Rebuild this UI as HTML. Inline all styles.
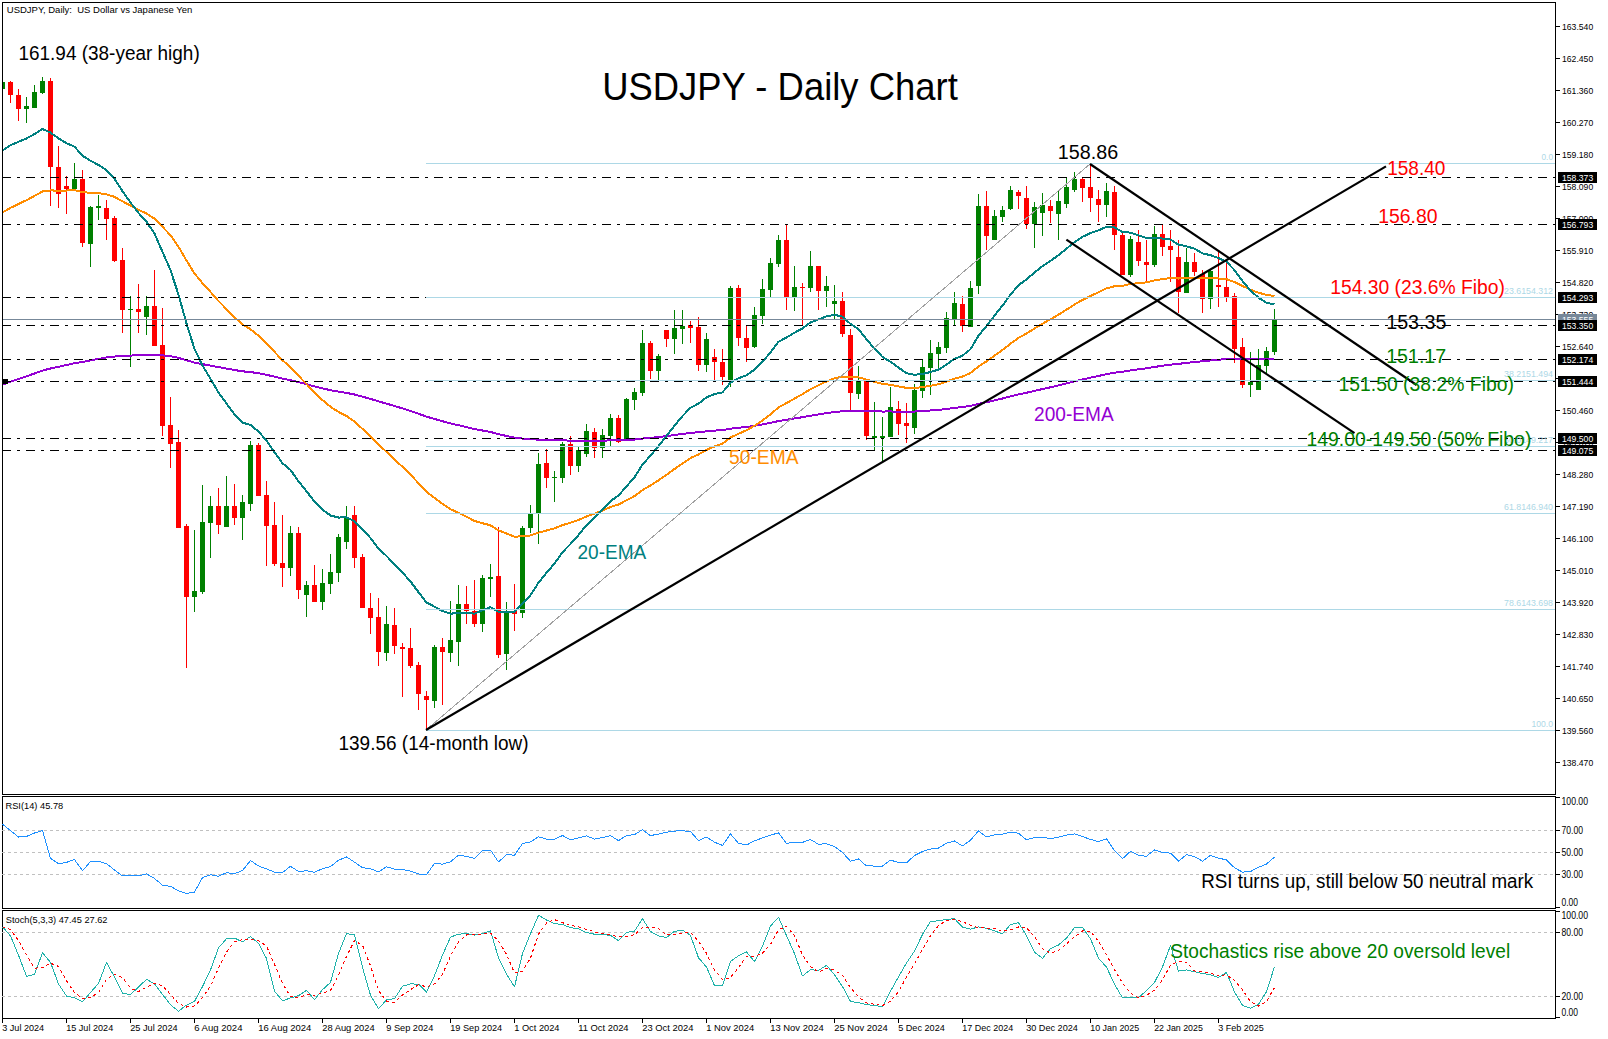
<!DOCTYPE html>
<html><head><meta charset="utf-8"><style>html,body{margin:0;padding:0;background:#fff;overflow:hidden}svg{display:block}</style></head><body>
<svg width="1608" height="1039" viewBox="0 0 1608 1039" style='font-family: "Liberation Sans", sans-serif;'>
<rect x="0" y="0" width="1608" height="1039" fill="#fff"/>
<g shape-rendering="crispEdges"><rect x="2" y="80" width="1" height="10" fill="#008000"/><rect x="3" y="82" width="2" height="7" fill="#008000"/><rect x="10" y="81" width="1" height="22" fill="#ff0000"/><rect x="8" y="82" width="5" height="13" fill="#ff0000"/><rect x="18" y="89" width="1" height="32" fill="#ff0000"/><rect x="16" y="95" width="5" height="14" fill="#ff0000"/><rect x="26" y="97" width="1" height="26" fill="#008000"/><rect x="24" y="106" width="5" height="3" fill="#008000"/><rect x="34" y="85" width="1" height="23" fill="#008000"/><rect x="32" y="92" width="5" height="16" fill="#008000"/><rect x="42" y="77" width="1" height="17" fill="#008000"/><rect x="40" y="81" width="5" height="12" fill="#008000"/><rect x="50" y="78" width="1" height="128" fill="#ff0000"/><rect x="48" y="81" width="5" height="86" fill="#ff0000"/><rect x="58" y="146" width="1" height="62" fill="#ff0000"/><rect x="56" y="167" width="5" height="27" fill="#ff0000"/><rect x="66" y="176" width="1" height="38" fill="#ff0000"/><rect x="64" y="186" width="5" height="3" fill="#ff0000"/><rect x="74" y="163" width="1" height="26" fill="#008000"/><rect x="72" y="179" width="5" height="10" fill="#008000"/><rect x="82" y="170" width="1" height="77" fill="#ff0000"/><rect x="80" y="179" width="5" height="64" fill="#ff0000"/><rect x="90" y="206" width="1" height="61" fill="#008000"/><rect x="88" y="207" width="5" height="37" fill="#008000"/><rect x="98" y="195" width="1" height="25" fill="#008000"/><rect x="96" y="206" width="5" height="2" fill="#008000"/><rect x="106" y="200" width="1" height="40" fill="#ff0000"/><rect x="104" y="208" width="5" height="11" fill="#ff0000"/><rect x="114" y="216" width="1" height="46" fill="#ff0000"/><rect x="112" y="218" width="5" height="43" fill="#ff0000"/><rect x="122" y="248" width="1" height="85" fill="#ff0000"/><rect x="120" y="260" width="5" height="50" fill="#ff0000"/><rect x="130" y="296" width="1" height="71" fill="#008000"/><rect x="128" y="309" width="5" height="1" fill="#008000"/><rect x="138" y="284" width="1" height="49" fill="#ff0000"/><rect x="136" y="309" width="5" height="3" fill="#ff0000"/><rect x="146" y="296" width="1" height="39" fill="#008000"/><rect x="144" y="306" width="5" height="11" fill="#008000"/><rect x="154" y="270" width="1" height="76" fill="#ff0000"/><rect x="152" y="306" width="5" height="40" fill="#ff0000"/><rect x="162" y="308" width="1" height="128" fill="#ff0000"/><rect x="160" y="345" width="5" height="81" fill="#ff0000"/><rect x="170" y="397" width="1" height="71" fill="#ff0000"/><rect x="168" y="425" width="5" height="19" fill="#ff0000"/><rect x="178" y="430" width="1" height="98" fill="#ff0000"/><rect x="176" y="442" width="5" height="86" fill="#ff0000"/><rect x="186" y="524" width="1" height="144" fill="#ff0000"/><rect x="184" y="526" width="5" height="71" fill="#ff0000"/><rect x="194" y="530" width="1" height="82" fill="#008000"/><rect x="192" y="591" width="5" height="6" fill="#008000"/><rect x="202" y="485" width="1" height="109" fill="#008000"/><rect x="200" y="522" width="5" height="70" fill="#008000"/><rect x="210" y="496" width="1" height="62" fill="#008000"/><rect x="208" y="506" width="5" height="17" fill="#008000"/><rect x="218" y="488" width="1" height="46" fill="#ff0000"/><rect x="216" y="506" width="5" height="19" fill="#ff0000"/><rect x="226" y="476" width="1" height="51" fill="#008000"/><rect x="224" y="506" width="5" height="21" fill="#008000"/><rect x="234" y="484" width="1" height="41" fill="#ff0000"/><rect x="232" y="506" width="5" height="12" fill="#ff0000"/><rect x="242" y="495" width="1" height="45" fill="#008000"/><rect x="240" y="502" width="5" height="16" fill="#008000"/><rect x="250" y="441" width="1" height="70" fill="#008000"/><rect x="248" y="445" width="5" height="59" fill="#008000"/><rect x="258" y="443" width="1" height="53" fill="#ff0000"/><rect x="256" y="445" width="5" height="51" fill="#ff0000"/><rect x="266" y="481" width="1" height="85" fill="#ff0000"/><rect x="264" y="495" width="5" height="31" fill="#ff0000"/><rect x="274" y="502" width="1" height="64" fill="#ff0000"/><rect x="272" y="525" width="5" height="39" fill="#ff0000"/><rect x="282" y="515" width="1" height="72" fill="#ff0000"/><rect x="280" y="563" width="5" height="5" fill="#ff0000"/><rect x="290" y="526" width="1" height="50" fill="#008000"/><rect x="288" y="533" width="5" height="35" fill="#008000"/><rect x="298" y="527" width="1" height="72" fill="#ff0000"/><rect x="296" y="533" width="5" height="57" fill="#ff0000"/><rect x="306" y="581" width="1" height="36" fill="#008000"/><rect x="304" y="585" width="5" height="10" fill="#008000"/><rect x="314" y="565" width="1" height="37" fill="#ff0000"/><rect x="312" y="585" width="5" height="17" fill="#ff0000"/><rect x="322" y="569" width="1" height="41" fill="#008000"/><rect x="320" y="583" width="5" height="19" fill="#008000"/><rect x="330" y="554" width="1" height="40" fill="#008000"/><rect x="328" y="572" width="5" height="12" fill="#008000"/><rect x="338" y="534" width="1" height="48" fill="#008000"/><rect x="336" y="537" width="5" height="36" fill="#008000"/><rect x="346" y="506" width="1" height="43" fill="#008000"/><rect x="344" y="517" width="5" height="25" fill="#008000"/><rect x="354" y="506" width="1" height="62" fill="#ff0000"/><rect x="352" y="515" width="5" height="43" fill="#ff0000"/><rect x="362" y="554" width="1" height="54" fill="#ff0000"/><rect x="360" y="557" width="5" height="51" fill="#ff0000"/><rect x="370" y="593" width="1" height="41" fill="#ff0000"/><rect x="368" y="608" width="5" height="10" fill="#ff0000"/><rect x="378" y="598" width="1" height="68" fill="#ff0000"/><rect x="376" y="617" width="5" height="35" fill="#ff0000"/><rect x="386" y="606" width="1" height="55" fill="#008000"/><rect x="384" y="624" width="5" height="29" fill="#008000"/><rect x="394" y="608" width="1" height="46" fill="#ff0000"/><rect x="392" y="625" width="5" height="21" fill="#ff0000"/><rect x="402" y="643" width="1" height="54" fill="#ff0000"/><rect x="400" y="647" width="5" height="2" fill="#ff0000"/><rect x="410" y="628" width="1" height="40" fill="#ff0000"/><rect x="408" y="648" width="5" height="18" fill="#ff0000"/><rect x="418" y="662" width="1" height="48" fill="#ff0000"/><rect x="416" y="665" width="5" height="29" fill="#ff0000"/><rect x="426" y="691" width="1" height="38" fill="#ff0000"/><rect x="424" y="696" width="5" height="4" fill="#ff0000"/><rect x="434" y="645" width="1" height="63" fill="#008000"/><rect x="432" y="647" width="5" height="54" fill="#008000"/><rect x="442" y="638" width="1" height="67" fill="#ff0000"/><rect x="440" y="647" width="5" height="5" fill="#ff0000"/><rect x="450" y="601" width="1" height="61" fill="#008000"/><rect x="448" y="640" width="5" height="13" fill="#008000"/><rect x="458" y="585" width="1" height="81" fill="#008000"/><rect x="456" y="604" width="5" height="38" fill="#008000"/><rect x="466" y="586" width="1" height="38" fill="#ff0000"/><rect x="464" y="604" width="5" height="7" fill="#ff0000"/><rect x="474" y="580" width="1" height="47" fill="#ff0000"/><rect x="472" y="611" width="5" height="13" fill="#ff0000"/><rect x="482" y="575" width="1" height="57" fill="#008000"/><rect x="480" y="578" width="5" height="46" fill="#008000"/><rect x="490" y="564" width="1" height="33" fill="#008000"/><rect x="488" y="577" width="5" height="2" fill="#008000"/><rect x="498" y="527" width="1" height="131" fill="#ff0000"/><rect x="496" y="576" width="5" height="79" fill="#ff0000"/><rect x="506" y="602" width="1" height="68" fill="#008000"/><rect x="504" y="611" width="5" height="43" fill="#008000"/><rect x="514" y="584" width="1" height="47" fill="#ff0000"/><rect x="512" y="611" width="5" height="3" fill="#ff0000"/><rect x="522" y="526" width="1" height="92" fill="#008000"/><rect x="520" y="528" width="5" height="85" fill="#008000"/><rect x="530" y="505" width="1" height="28" fill="#008000"/><rect x="528" y="514" width="5" height="14" fill="#008000"/><rect x="538" y="453" width="1" height="91" fill="#008000"/><rect x="536" y="464" width="5" height="50" fill="#008000"/><rect x="546" y="449" width="1" height="39" fill="#ff0000"/><rect x="544" y="463" width="5" height="15" fill="#ff0000"/><rect x="554" y="471" width="1" height="31" fill="#008000"/><rect x="552" y="477" width="5" height="1" fill="#008000"/><rect x="562" y="442" width="1" height="41" fill="#008000"/><rect x="560" y="444" width="5" height="34" fill="#008000"/><rect x="570" y="436" width="1" height="39" fill="#ff0000"/><rect x="568" y="444" width="5" height="22" fill="#ff0000"/><rect x="578" y="446" width="1" height="26" fill="#008000"/><rect x="576" y="450" width="5" height="16" fill="#008000"/><rect x="586" y="424" width="1" height="33" fill="#008000"/><rect x="584" y="431" width="5" height="23" fill="#008000"/><rect x="594" y="428" width="1" height="30" fill="#ff0000"/><rect x="592" y="432" width="5" height="16" fill="#ff0000"/><rect x="602" y="429" width="1" height="29" fill="#008000"/><rect x="600" y="435" width="5" height="13" fill="#008000"/><rect x="610" y="414" width="1" height="32" fill="#008000"/><rect x="608" y="418" width="5" height="18" fill="#008000"/><rect x="618" y="415" width="1" height="28" fill="#ff0000"/><rect x="616" y="418" width="5" height="24" fill="#ff0000"/><rect x="626" y="398" width="1" height="42" fill="#008000"/><rect x="624" y="399" width="5" height="41" fill="#008000"/><rect x="634" y="388" width="1" height="22" fill="#008000"/><rect x="632" y="392" width="5" height="8" fill="#008000"/><rect x="642" y="330" width="1" height="66" fill="#008000"/><rect x="640" y="343" width="5" height="50" fill="#008000"/><rect x="650" y="341" width="1" height="38" fill="#ff0000"/><rect x="648" y="343" width="5" height="28" fill="#ff0000"/><rect x="658" y="354" width="1" height="26" fill="#008000"/><rect x="656" y="356" width="5" height="15" fill="#008000"/><rect x="666" y="330" width="1" height="17" fill="#ff0000"/><rect x="664" y="330" width="5" height="9" fill="#ff0000"/><rect x="674" y="310" width="1" height="44" fill="#008000"/><rect x="672" y="328" width="5" height="11" fill="#008000"/><rect x="682" y="310" width="1" height="34" fill="#008000"/><rect x="680" y="326" width="5" height="3" fill="#008000"/><rect x="690" y="321" width="1" height="22" fill="#ff0000"/><rect x="688" y="325" width="5" height="3" fill="#ff0000"/><rect x="698" y="317" width="1" height="54" fill="#ff0000"/><rect x="696" y="327" width="5" height="38" fill="#ff0000"/><rect x="706" y="333" width="1" height="39" fill="#008000"/><rect x="704" y="339" width="5" height="26" fill="#008000"/><rect x="714" y="349" width="1" height="31" fill="#ff0000"/><rect x="712" y="357" width="5" height="5" fill="#ff0000"/><rect x="722" y="349" width="1" height="36" fill="#ff0000"/><rect x="720" y="362" width="5" height="15" fill="#ff0000"/><rect x="730" y="286" width="1" height="101" fill="#008000"/><rect x="728" y="288" width="5" height="92" fill="#008000"/><rect x="738" y="285" width="1" height="61" fill="#ff0000"/><rect x="736" y="288" width="5" height="50" fill="#ff0000"/><rect x="746" y="326" width="1" height="36" fill="#ff0000"/><rect x="744" y="338" width="5" height="10" fill="#ff0000"/><rect x="754" y="307" width="1" height="41" fill="#008000"/><rect x="752" y="315" width="5" height="32" fill="#008000"/><rect x="762" y="279" width="1" height="45" fill="#008000"/><rect x="760" y="289" width="5" height="27" fill="#008000"/><rect x="770" y="258" width="1" height="39" fill="#008000"/><rect x="768" y="263" width="5" height="27" fill="#008000"/><rect x="778" y="235" width="1" height="32" fill="#008000"/><rect x="776" y="240" width="5" height="24" fill="#008000"/><rect x="786" y="224" width="1" height="86" fill="#ff0000"/><rect x="784" y="240" width="5" height="57" fill="#ff0000"/><rect x="794" y="266" width="1" height="45" fill="#008000"/><rect x="792" y="287" width="5" height="11" fill="#008000"/><rect x="802" y="283" width="1" height="43" fill="#ff0000"/><rect x="800" y="287" width="5" height="1" fill="#ff0000"/><rect x="810" y="251" width="1" height="41" fill="#008000"/><rect x="808" y="266" width="5" height="22" fill="#008000"/><rect x="818" y="266" width="1" height="44" fill="#ff0000"/><rect x="816" y="266" width="5" height="25" fill="#ff0000"/><rect x="826" y="276" width="1" height="31" fill="#008000"/><rect x="824" y="286" width="5" height="5" fill="#008000"/><rect x="834" y="285" width="1" height="35" fill="#008000"/><rect x="832" y="301" width="5" height="3" fill="#008000"/><rect x="842" y="292" width="1" height="45" fill="#ff0000"/><rect x="840" y="301" width="5" height="33" fill="#ff0000"/><rect x="850" y="329" width="1" height="81" fill="#ff0000"/><rect x="848" y="335" width="5" height="58" fill="#ff0000"/><rect x="858" y="366" width="1" height="33" fill="#008000"/><rect x="856" y="380" width="5" height="14" fill="#008000"/><rect x="866" y="381" width="1" height="59" fill="#ff0000"/><rect x="864" y="381" width="5" height="55" fill="#ff0000"/><rect x="874" y="402" width="1" height="49" fill="#008000"/><rect x="872" y="436" width="5" height="2" fill="#008000"/><rect x="882" y="417" width="1" height="44" fill="#008000"/><rect x="880" y="436" width="5" height="2" fill="#008000"/><rect x="890" y="387" width="1" height="50" fill="#008000"/><rect x="888" y="407" width="5" height="30" fill="#008000"/><rect x="898" y="401" width="1" height="34" fill="#ff0000"/><rect x="896" y="409" width="5" height="15" fill="#ff0000"/><rect x="906" y="403" width="1" height="40" fill="#ff0000"/><rect x="904" y="423" width="5" height="3" fill="#ff0000"/><rect x="914" y="384" width="1" height="50" fill="#008000"/><rect x="912" y="390" width="5" height="38" fill="#008000"/><rect x="922" y="360" width="1" height="38" fill="#008000"/><rect x="920" y="367" width="5" height="24" fill="#008000"/><rect x="930" y="340" width="1" height="55" fill="#008000"/><rect x="928" y="353" width="5" height="15" fill="#008000"/><rect x="938" y="342" width="1" height="29" fill="#008000"/><rect x="936" y="347" width="5" height="7" fill="#008000"/><rect x="946" y="312" width="1" height="41" fill="#008000"/><rect x="944" y="318" width="5" height="30" fill="#008000"/><rect x="954" y="292" width="1" height="34" fill="#008000"/><rect x="952" y="303" width="5" height="17" fill="#008000"/><rect x="962" y="296" width="1" height="36" fill="#ff0000"/><rect x="960" y="304" width="5" height="22" fill="#ff0000"/><rect x="970" y="281" width="1" height="46" fill="#008000"/><rect x="968" y="288" width="5" height="39" fill="#008000"/><rect x="978" y="194" width="1" height="100" fill="#008000"/><rect x="976" y="206" width="5" height="80" fill="#008000"/><rect x="986" y="191" width="1" height="59" fill="#ff0000"/><rect x="984" y="206" width="5" height="30" fill="#ff0000"/><rect x="994" y="210" width="1" height="30" fill="#008000"/><rect x="992" y="216" width="5" height="24" fill="#008000"/><rect x="1002" y="206" width="1" height="16" fill="#008000"/><rect x="1000" y="210" width="5" height="7" fill="#008000"/><rect x="1010" y="186" width="1" height="24" fill="#008000"/><rect x="1008" y="190" width="5" height="19" fill="#008000"/><rect x="1018" y="190" width="1" height="19" fill="#ff0000"/><rect x="1016" y="192" width="5" height="4" fill="#ff0000"/><rect x="1026" y="186" width="1" height="43" fill="#ff0000"/><rect x="1024" y="198" width="5" height="26" fill="#ff0000"/><rect x="1034" y="202" width="1" height="46" fill="#008000"/><rect x="1032" y="207" width="5" height="17" fill="#008000"/><rect x="1042" y="193" width="1" height="43" fill="#008000"/><rect x="1040" y="205" width="5" height="8" fill="#008000"/><rect x="1050" y="200" width="1" height="23" fill="#ff0000"/><rect x="1048" y="206" width="5" height="5" fill="#ff0000"/><rect x="1058" y="191" width="1" height="49" fill="#008000"/><rect x="1056" y="201" width="5" height="13" fill="#008000"/><rect x="1066" y="178" width="1" height="30" fill="#008000"/><rect x="1064" y="187" width="5" height="17" fill="#008000"/><rect x="1074" y="172" width="1" height="20" fill="#008000"/><rect x="1072" y="179" width="5" height="11" fill="#008000"/><rect x="1082" y="177" width="1" height="25" fill="#ff0000"/><rect x="1080" y="179" width="5" height="9" fill="#ff0000"/><rect x="1090" y="164" width="1" height="48" fill="#ff0000"/><rect x="1088" y="187" width="5" height="11" fill="#ff0000"/><rect x="1098" y="190" width="1" height="32" fill="#ff0000"/><rect x="1096" y="199" width="5" height="6" fill="#ff0000"/><rect x="1106" y="183" width="1" height="34" fill="#008000"/><rect x="1104" y="191" width="5" height="14" fill="#008000"/><rect x="1114" y="186" width="1" height="64" fill="#ff0000"/><rect x="1112" y="192" width="5" height="43" fill="#ff0000"/><rect x="1122" y="233" width="1" height="42" fill="#ff0000"/><rect x="1120" y="235" width="5" height="40" fill="#ff0000"/><rect x="1130" y="236" width="1" height="41" fill="#008000"/><rect x="1128" y="239" width="5" height="36" fill="#008000"/><rect x="1138" y="230" width="1" height="36" fill="#ff0000"/><rect x="1136" y="242" width="5" height="19" fill="#ff0000"/><rect x="1146" y="240" width="1" height="41" fill="#ff0000"/><rect x="1144" y="262" width="5" height="3" fill="#ff0000"/><rect x="1154" y="226" width="1" height="41" fill="#008000"/><rect x="1152" y="234" width="5" height="31" fill="#008000"/><rect x="1162" y="224" width="1" height="32" fill="#ff0000"/><rect x="1160" y="234" width="5" height="13" fill="#ff0000"/><rect x="1170" y="230" width="1" height="52" fill="#ff0000"/><rect x="1168" y="246" width="5" height="4" fill="#ff0000"/><rect x="1178" y="240" width="1" height="73" fill="#ff0000"/><rect x="1176" y="257" width="5" height="35" fill="#ff0000"/><rect x="1186" y="248" width="1" height="45" fill="#008000"/><rect x="1184" y="262" width="5" height="31" fill="#008000"/><rect x="1194" y="253" width="1" height="23" fill="#ff0000"/><rect x="1192" y="262" width="5" height="10" fill="#ff0000"/><rect x="1202" y="270" width="1" height="43" fill="#ff0000"/><rect x="1200" y="274" width="5" height="25" fill="#ff0000"/><rect x="1210" y="270" width="1" height="39" fill="#008000"/><rect x="1208" y="271" width="5" height="28" fill="#008000"/><rect x="1218" y="251" width="1" height="56" fill="#ff0000"/><rect x="1216" y="285" width="5" height="2" fill="#ff0000"/><rect x="1226" y="261" width="1" height="41" fill="#ff0000"/><rect x="1224" y="287" width="5" height="10" fill="#ff0000"/><rect x="1234" y="293" width="1" height="70" fill="#ff0000"/><rect x="1232" y="296" width="5" height="53" fill="#ff0000"/><rect x="1242" y="338" width="1" height="50" fill="#ff0000"/><rect x="1240" y="347" width="5" height="38" fill="#ff0000"/><rect x="1250" y="352" width="1" height="45" fill="#008000"/><rect x="1248" y="382" width="5" height="3" fill="#008000"/><rect x="1258" y="349" width="1" height="41" fill="#008000"/><rect x="1256" y="365" width="5" height="25" fill="#008000"/><rect x="1266" y="347" width="1" height="26" fill="#008000"/><rect x="1264" y="351" width="5" height="15" fill="#008000"/><rect x="1274" y="309" width="1" height="46" fill="#008000"/><rect x="1272" y="319" width="5" height="33" fill="#008000"/></g>
<polyline points="2.5,384.60 10.5,381.72 18.5,379.00 26.5,376.29 34.5,373.46 42.5,370.55 50.5,368.52 58.5,366.78 66.5,365.02 74.5,363.17 82.5,361.97 90.5,360.43 98.5,358.89 106.5,357.49 114.5,356.53 122.5,356.08 130.5,355.61 138.5,355.18 146.5,354.68 154.5,354.59 162.5,355.30 170.5,356.18 178.5,357.89 186.5,360.27 194.5,362.56 202.5,364.14 210.5,365.56 218.5,367.14 226.5,368.52 234.5,370.01 242.5,371.32 250.5,372.05 258.5,373.28 266.5,374.80 274.5,376.68 282.5,378.58 290.5,380.12 298.5,382.20 306.5,384.22 314.5,386.39 322.5,388.35 330.5,390.18 338.5,391.64 346.5,392.88 354.5,394.52 362.5,396.65 370.5,398.85 378.5,401.36 386.5,403.57 394.5,405.99 402.5,408.41 410.5,410.97 418.5,413.78 426.5,416.63 434.5,418.93 442.5,421.24 450.5,423.42 458.5,425.21 466.5,427.07 474.5,429.02 482.5,430.51 490.5,431.96 498.5,434.18 506.5,435.94 514.5,437.70 522.5,438.60 530.5,439.35 538.5,439.59 546.5,439.97 554.5,440.34 562.5,440.37 570.5,440.63 578.5,440.73 586.5,440.63 594.5,440.70 602.5,440.64 610.5,440.42 618.5,440.43 626.5,440.02 634.5,439.54 642.5,438.58 650.5,437.91 658.5,437.10 666.5,436.12 674.5,435.04 682.5,433.95 690.5,432.90 698.5,432.22 706.5,431.29 714.5,430.60 722.5,430.06 730.5,428.65 738.5,427.75 746.5,426.95 754.5,425.84 762.5,424.47 770.5,422.87 778.5,421.05 786.5,419.81 794.5,418.49 802.5,417.19 810.5,415.69 818.5,414.44 826.5,413.17 834.5,412.05 842.5,411.28 850.5,411.09 858.5,410.78 866.5,411.03 874.5,411.28 882.5,411.53 890.5,411.48 898.5,411.60 906.5,411.74 914.5,411.53 922.5,411.08 930.5,410.50 938.5,409.87 946.5,408.96 954.5,407.90 962.5,407.08 970.5,405.90 978.5,403.91 986.5,402.24 994.5,400.39 1002.5,398.50 1010.5,396.42 1018.5,394.43 1026.5,392.74 1034.5,390.89 1042.5,389.04 1050.5,387.27 1058.5,385.42 1066.5,383.45 1074.5,381.41 1082.5,379.48 1090.5,377.67 1098.5,375.95 1106.5,374.11 1114.5,372.73 1122.5,371.75 1130.5,370.43 1138.5,369.34 1146.5,368.30 1154.5,366.96 1162.5,365.77 1170.5,364.61 1178.5,363.89 1186.5,362.87 1194.5,361.96 1202.5,361.33 1210.5,360.44 1218.5,359.70 1226.5,359.08 1234.5,358.97 1242.5,359.23 1250.5,359.46 1258.5,359.51 1266.5,359.43 1274.5,359.03" fill="none" stroke="#9400d3" stroke-width="2" stroke-linejoin="round" shape-rendering="crispEdges"/>
<polyline points="2.5,212.50 10.5,207.88 18.5,204.00 26.5,200.18 34.5,195.94 42.5,191.43 50.5,190.46 58.5,190.59 66.5,190.53 74.5,190.08 82.5,192.16 90.5,192.74 98.5,193.25 106.5,194.25 114.5,196.87 122.5,201.32 130.5,205.54 138.5,209.73 146.5,213.49 154.5,218.67 162.5,226.78 170.5,235.28 178.5,246.78 186.5,260.49 194.5,273.45 202.5,283.19 210.5,291.92 218.5,301.05 226.5,309.09 234.5,317.28 242.5,324.52 250.5,329.24 258.5,335.77 266.5,343.22 274.5,351.87 282.5,360.33 290.5,367.10 298.5,375.83 306.5,384.03 314.5,392.60 322.5,400.07 330.5,406.81 338.5,411.92 346.5,416.02 354.5,421.57 362.5,428.90 370.5,436.30 378.5,444.74 386.5,451.77 394.5,459.41 402.5,466.83 410.5,474.64 418.5,483.23 426.5,491.75 434.5,497.83 442.5,503.86 450.5,509.20 458.5,512.92 466.5,516.77 474.5,520.96 482.5,523.21 490.5,525.32 498.5,530.39 506.5,533.54 514.5,536.67 522.5,536.33 530.5,535.44 538.5,532.63 546.5,530.49 554.5,528.39 562.5,525.07 570.5,522.77 578.5,519.91 586.5,516.43 594.5,513.73 602.5,510.64 610.5,507.01 618.5,504.46 626.5,500.33 634.5,496.08 642.5,490.08 650.5,485.41 658.5,480.33 666.5,474.78 674.5,469.02 682.5,463.39 690.5,458.08 698.5,454.42 706.5,449.90 714.5,446.43 722.5,443.71 730.5,437.60 738.5,433.69 746.5,430.33 754.5,425.80 762.5,420.43 770.5,414.25 778.5,407.42 786.5,403.08 794.5,398.54 802.5,394.21 810.5,389.16 818.5,385.30 826.5,381.42 834.5,378.28 842.5,376.53 850.5,377.17 858.5,377.27 866.5,379.56 874.5,381.79 882.5,383.93 890.5,384.83 898.5,386.35 906.5,387.90 914.5,387.97 922.5,387.15 930.5,385.80 938.5,384.28 946.5,381.68 954.5,378.60 962.5,376.52 970.5,373.05 978.5,366.50 986.5,361.37 994.5,355.68 1002.5,349.99 1010.5,343.72 1018.5,337.91 1026.5,333.46 1034.5,328.51 1042.5,323.68 1050.5,319.26 1058.5,314.62 1066.5,309.63 1074.5,304.50 1082.5,299.92 1090.5,295.90 1098.5,292.34 1106.5,288.36 1114.5,286.26 1122.5,285.81 1130.5,283.97 1138.5,283.06 1146.5,282.35 1154.5,280.46 1162.5,279.13 1170.5,277.97 1178.5,278.51 1186.5,277.86 1194.5,277.62 1202.5,278.44 1210.5,278.16 1218.5,278.49 1226.5,279.21 1234.5,281.93 1242.5,285.96 1250.5,289.73 1258.5,292.68 1266.5,294.97 1274.5,295.92" fill="none" stroke="#ff8c00" stroke-width="2" stroke-linejoin="round" shape-rendering="crispEdges"/>
<polyline points="2.5,150.60 10.5,145.28 18.5,141.82 26.5,138.45 34.5,134.03 42.5,128.98 50.5,132.58 58.5,138.41 66.5,143.22 74.5,146.65 82.5,155.83 90.5,160.70 98.5,164.99 106.5,170.10 114.5,178.76 122.5,191.31 130.5,202.50 138.5,212.97 146.5,221.79 154.5,233.58 162.5,251.85 170.5,270.12 178.5,294.71 186.5,323.46 194.5,348.93 202.5,365.40 210.5,378.78 218.5,392.68 226.5,403.46 234.5,414.36 242.5,422.70 250.5,424.82 258.5,431.57 266.5,440.54 274.5,452.29 282.5,463.27 290.5,469.91 298.5,481.31 306.5,491.18 314.5,501.78 322.5,509.54 330.5,515.48 338.5,517.53 346.5,517.44 354.5,521.25 362.5,529.55 370.5,537.95 378.5,548.77 386.5,555.93 394.5,564.55 402.5,572.58 410.5,581.47 418.5,592.16 426.5,602.46 434.5,606.68 442.5,610.97 450.5,613.74 458.5,612.81 466.5,612.66 474.5,613.70 482.5,610.32 490.5,607.14 498.5,611.66 506.5,611.58 514.5,611.76 522.5,603.79 530.5,595.20 538.5,582.68 546.5,572.71 554.5,563.59 562.5,552.17 570.5,544.01 578.5,535.05 586.5,525.16 594.5,517.76 602.5,509.88 610.5,501.13 618.5,495.50 626.5,486.33 634.5,477.34 642.5,464.55 650.5,455.63 658.5,446.14 666.5,435.91 674.5,425.63 682.5,416.10 690.5,407.70 698.5,403.61 706.5,397.46 714.5,394.04 722.5,392.42 730.5,382.46 738.5,378.21 746.5,375.33 754.5,369.57 762.5,361.90 770.5,352.46 778.5,341.75 786.5,337.48 794.5,332.69 802.5,328.45 810.5,322.46 818.5,319.43 826.5,316.28 834.5,314.85 842.5,316.65 850.5,323.91 858.5,329.22 866.5,339.35 874.5,348.59 882.5,356.96 890.5,361.72 898.5,367.61 906.5,373.15 914.5,374.73 922.5,374.00 930.5,371.98 938.5,369.60 946.5,364.69 954.5,358.81 962.5,355.65 970.5,349.21 978.5,335.59 986.5,326.07 994.5,315.61 1002.5,305.60 1010.5,294.61 1018.5,285.18 1026.5,279.40 1034.5,272.52 1042.5,266.12 1050.5,260.87 1058.5,255.17 1066.5,248.70 1074.5,242.05 1082.5,236.86 1090.5,233.12 1098.5,230.44 1106.5,226.68 1114.5,227.44 1122.5,231.95 1130.5,232.63 1138.5,235.30 1146.5,238.13 1154.5,237.73 1162.5,238.58 1170.5,239.62 1178.5,244.60 1186.5,246.26 1194.5,248.67 1202.5,253.42 1210.5,255.12 1218.5,258.13 1226.5,261.80 1234.5,270.08 1242.5,280.99 1250.5,290.61 1258.5,297.70 1266.5,302.77 1274.5,304.34" fill="none" stroke="#008080" stroke-width="2" stroke-linejoin="round" shape-rendering="crispEdges"/>
<g shape-rendering="crispEdges"><line x1="2" y1="177.5" x2="1555" y2="177.5" stroke="#000" stroke-width="1" stroke-dasharray="9,6,3,6"/><line x1="2" y1="224.5" x2="1555" y2="224.5" stroke="#000" stroke-width="1" stroke-dasharray="9,6,3,6"/><line x1="2" y1="297.5" x2="1555" y2="297.5" stroke="#000" stroke-width="1" stroke-dasharray="9,6,3,6"/><line x1="2" y1="325.5" x2="1555" y2="325.5" stroke="#000" stroke-width="1" stroke-dasharray="9,6,3,6"/><line x1="2" y1="359.5" x2="1555" y2="359.5" stroke="#000" stroke-width="1" stroke-dasharray="9,6,3,6"/><line x1="2" y1="381.5" x2="1555" y2="381.5" stroke="#000" stroke-width="1" stroke-dasharray="9,6,3,6"/><line x1="2" y1="438.5" x2="1555" y2="438.5" stroke="#000" stroke-width="1" stroke-dasharray="9,6,3,6"/><line x1="2" y1="450.5" x2="1555" y2="450.5" stroke="#000" stroke-width="1" stroke-dasharray="9,6,3,6"/><rect x="3" y="319" width="1552" height="1" fill="#778899"/></g>
<rect x="3" y="379" width="5" height="5" fill="#000"/>
<g shape-rendering="crispEdges"><rect x="426" y="163" width="1129" height="1" fill="#add8e6"/><rect x="426" y="297" width="1129" height="1" fill="#add8e6"/><rect x="426" y="380" width="1129" height="1" fill="#add8e6"/><rect x="426" y="446" width="1129" height="1" fill="#add8e6"/><rect x="426" y="513" width="1129" height="1" fill="#add8e6"/><rect x="426" y="609" width="1129" height="1" fill="#add8e6"/><rect x="426" y="730" width="1129" height="1" fill="#add8e6"/></g>
<text x="1541.50" y="159.50" font-size="9" fill="#add8e6" textLength="11.50" lengthAdjust="spacingAndGlyphs">0.0</text>
<text x="1504.00" y="293.50" font-size="9" fill="#add8e6" textLength="49.00" lengthAdjust="spacingAndGlyphs">23.6154.312</text>
<text x="1504.00" y="376.50" font-size="9" fill="#add8e6" textLength="49.00" lengthAdjust="spacingAndGlyphs">38.2151.494</text>
<text x="1504.00" y="442.50" font-size="9" fill="#add8e6" textLength="49.00" lengthAdjust="spacingAndGlyphs">50.0149.217</text>
<text x="1504.00" y="509.50" font-size="9" fill="#add8e6" textLength="49.00" lengthAdjust="spacingAndGlyphs">61.8146.940</text>
<text x="1504.00" y="605.50" font-size="9" fill="#add8e6" textLength="49.00" lengthAdjust="spacingAndGlyphs">78.6143.698</text>
<text x="1531.50" y="726.50" font-size="9" fill="#add8e6" textLength="21.50" lengthAdjust="spacingAndGlyphs">100.0</text>
<line x1="426" y1="730" x2="1090" y2="164" stroke="#a0a0a0" stroke-width="1" shape-rendering="crispEdges"/>
<line x1="426" y1="730" x2="1386" y2="166.4" stroke="#000" stroke-width="2.2"/>
<line x1="1090" y1="164" x2="1416.6" y2="385" stroke="#000" stroke-width="2.2"/>
<line x1="1066.4" y1="239.7" x2="1354.5" y2="433.2" stroke="#000" stroke-width="2.2"/>
<g shape-rendering="crispEdges"><rect x="2" y="2" width="1554" height="1" fill="#000"/><rect x="2" y="794" width="1554" height="1" fill="#000"/><rect x="2" y="2" width="1" height="793" fill="#000"/><rect x="1555" y="2" width="1" height="793" fill="#000"/><rect x="2" y="796" width="1554" height="1" fill="#000"/><rect x="2" y="908" width="1554" height="1" fill="#000"/><rect x="2" y="796" width="1" height="113" fill="#000"/><rect x="1555" y="796" width="1" height="113" fill="#000"/><rect x="2" y="910" width="1554" height="1" fill="#000"/><rect x="2" y="1018" width="1554" height="1" fill="#000"/><rect x="2" y="910" width="1" height="109" fill="#000"/><rect x="1555" y="910" width="1" height="109" fill="#000"/></g>
<g shape-rendering="crispEdges"><rect x="1556" y="26" width="4" height="1" fill="#000"/><rect x="1556" y="58" width="4" height="1" fill="#000"/><rect x="1556" y="90" width="4" height="1" fill="#000"/><rect x="1556" y="122" width="4" height="1" fill="#000"/><rect x="1556" y="154" width="4" height="1" fill="#000"/><rect x="1556" y="186" width="4" height="1" fill="#000"/><rect x="1556" y="218" width="4" height="1" fill="#000"/><rect x="1556" y="250" width="4" height="1" fill="#000"/><rect x="1556" y="282" width="4" height="1" fill="#000"/><rect x="1556" y="314" width="4" height="1" fill="#000"/><rect x="1556" y="346" width="4" height="1" fill="#000"/><rect x="1556" y="378" width="4" height="1" fill="#000"/><rect x="1556" y="410" width="4" height="1" fill="#000"/><rect x="1556" y="442" width="4" height="1" fill="#000"/><rect x="1556" y="474" width="4" height="1" fill="#000"/><rect x="1556" y="506" width="4" height="1" fill="#000"/><rect x="1556" y="538" width="4" height="1" fill="#000"/><rect x="1556" y="570" width="4" height="1" fill="#000"/><rect x="1556" y="602" width="4" height="1" fill="#000"/><rect x="1556" y="634" width="4" height="1" fill="#000"/><rect x="1556" y="666" width="4" height="1" fill="#000"/><rect x="1556" y="698" width="4" height="1" fill="#000"/><rect x="1556" y="730" width="4" height="1" fill="#000"/><rect x="1556" y="762" width="4" height="1" fill="#000"/></g>
<text x="1562.00" y="30.00" font-size="9.5" fill="#000" textLength="31.20" lengthAdjust="spacingAndGlyphs">163.540</text>
<text x="1562.00" y="62.00" font-size="9.5" fill="#000" textLength="31.20" lengthAdjust="spacingAndGlyphs">162.450</text>
<text x="1562.00" y="94.00" font-size="9.5" fill="#000" textLength="31.20" lengthAdjust="spacingAndGlyphs">161.360</text>
<text x="1562.00" y="126.00" font-size="9.5" fill="#000" textLength="31.20" lengthAdjust="spacingAndGlyphs">160.270</text>
<text x="1562.00" y="158.00" font-size="9.5" fill="#000" textLength="31.20" lengthAdjust="spacingAndGlyphs">159.180</text>
<text x="1562.00" y="190.00" font-size="9.5" fill="#000" textLength="31.20" lengthAdjust="spacingAndGlyphs">158.090</text>
<text x="1562.00" y="222.00" font-size="9.5" fill="#000" textLength="31.20" lengthAdjust="spacingAndGlyphs">157.000</text>
<text x="1562.00" y="254.00" font-size="9.5" fill="#000" textLength="31.20" lengthAdjust="spacingAndGlyphs">155.910</text>
<text x="1562.00" y="286.00" font-size="9.5" fill="#000" textLength="31.20" lengthAdjust="spacingAndGlyphs">154.820</text>
<text x="1562.00" y="318.00" font-size="9.5" fill="#000" textLength="31.20" lengthAdjust="spacingAndGlyphs">153.730</text>
<text x="1562.00" y="350.00" font-size="9.5" fill="#000" textLength="31.20" lengthAdjust="spacingAndGlyphs">152.640</text>
<text x="1562.00" y="382.00" font-size="9.5" fill="#000" textLength="31.20" lengthAdjust="spacingAndGlyphs">151.550</text>
<text x="1562.00" y="414.00" font-size="9.5" fill="#000" textLength="31.20" lengthAdjust="spacingAndGlyphs">150.460</text>
<text x="1562.00" y="446.00" font-size="9.5" fill="#000" textLength="31.20" lengthAdjust="spacingAndGlyphs">149.370</text>
<text x="1562.00" y="478.00" font-size="9.5" fill="#000" textLength="31.20" lengthAdjust="spacingAndGlyphs">148.280</text>
<text x="1562.00" y="510.00" font-size="9.5" fill="#000" textLength="31.20" lengthAdjust="spacingAndGlyphs">147.190</text>
<text x="1562.00" y="542.00" font-size="9.5" fill="#000" textLength="31.20" lengthAdjust="spacingAndGlyphs">146.100</text>
<text x="1562.00" y="574.00" font-size="9.5" fill="#000" textLength="31.20" lengthAdjust="spacingAndGlyphs">145.010</text>
<text x="1562.00" y="606.00" font-size="9.5" fill="#000" textLength="31.20" lengthAdjust="spacingAndGlyphs">143.920</text>
<text x="1562.00" y="638.00" font-size="9.5" fill="#000" textLength="31.20" lengthAdjust="spacingAndGlyphs">142.830</text>
<text x="1562.00" y="670.00" font-size="9.5" fill="#000" textLength="31.20" lengthAdjust="spacingAndGlyphs">141.740</text>
<text x="1562.00" y="702.00" font-size="9.5" fill="#000" textLength="31.20" lengthAdjust="spacingAndGlyphs">140.650</text>
<text x="1562.00" y="734.00" font-size="9.5" fill="#000" textLength="31.20" lengthAdjust="spacingAndGlyphs">139.560</text>
<text x="1562.00" y="766.00" font-size="9.5" fill="#000" textLength="31.20" lengthAdjust="spacingAndGlyphs">138.470</text>
<rect x="1558" y="314" width="39" height="11" fill="#778899" shape-rendering="crispEdges"/><text x="1562.00" y="323.00" font-size="9.5" fill="#fff" textLength="31.20" lengthAdjust="spacingAndGlyphs">153.555</text>
<rect x="1558" y="172" width="39" height="11" fill="#000" shape-rendering="crispEdges"/><text x="1562.00" y="181.00" font-size="9.5" fill="#fff" textLength="31.20" lengthAdjust="spacingAndGlyphs">158.373</text>
<rect x="1558" y="219" width="39" height="11" fill="#000" shape-rendering="crispEdges"/><text x="1562.00" y="228.00" font-size="9.5" fill="#fff" textLength="31.20" lengthAdjust="spacingAndGlyphs">156.793</text>
<rect x="1558" y="292" width="39" height="11" fill="#000" shape-rendering="crispEdges"/><text x="1562.00" y="301.00" font-size="9.5" fill="#fff" textLength="31.20" lengthAdjust="spacingAndGlyphs">154.293</text>
<rect x="1558" y="320" width="39" height="11" fill="#000" shape-rendering="crispEdges"/><text x="1562.00" y="329.00" font-size="9.5" fill="#fff" textLength="31.20" lengthAdjust="spacingAndGlyphs">153.350</text>
<rect x="1558" y="354" width="39" height="11" fill="#000" shape-rendering="crispEdges"/><text x="1562.00" y="363.00" font-size="9.5" fill="#fff" textLength="31.20" lengthAdjust="spacingAndGlyphs">152.174</text>
<rect x="1558" y="376" width="39" height="11" fill="#000" shape-rendering="crispEdges"/><text x="1562.00" y="385.00" font-size="9.5" fill="#fff" textLength="31.20" lengthAdjust="spacingAndGlyphs">151.444</text>
<rect x="1558" y="433" width="39" height="11" fill="#000" shape-rendering="crispEdges"/><text x="1562.00" y="442.00" font-size="9.5" fill="#fff" textLength="31.20" lengthAdjust="spacingAndGlyphs">149.500</text>
<rect x="1558" y="445" width="39" height="11" fill="#000" shape-rendering="crispEdges"/><text x="1562.00" y="454.00" font-size="9.5" fill="#fff" textLength="31.20" lengthAdjust="spacingAndGlyphs">149.075</text>
<g shape-rendering="crispEdges"><line x1="2" y1="830.5" x2="1555" y2="830.5" stroke="#c0c0c0" stroke-width="1" stroke-dasharray="3,3"/><line x1="2" y1="852.5" x2="1555" y2="852.5" stroke="#c0c0c0" stroke-width="1" stroke-dasharray="3,3"/><line x1="2" y1="874.5" x2="1555" y2="874.5" stroke="#c0c0c0" stroke-width="1" stroke-dasharray="3,3"/><line x1="2" y1="932.5" x2="1555" y2="932.5" stroke="#c0c0c0" stroke-width="1" stroke-dasharray="3,3"/><line x1="2" y1="996.5" x2="1555" y2="996.5" stroke="#c0c0c0" stroke-width="1" stroke-dasharray="3,3"/></g>
<polyline points="2.5,824.23 10.5,830.64 18.5,837.05 26.5,836.42 34.5,833.03 42.5,830.62 50.5,858.34 58.5,863.71 66.5,862.36 74.5,859.57 82.5,870.67 90.5,861.64 98.5,861.34 106.5,863.60 114.5,870.02 122.5,875.85 130.5,875.41 138.5,875.83 146.5,873.80 154.5,878.48 162.5,885.18 170.5,886.37 178.5,890.84 186.5,893.42 194.5,892.10 202.5,877.70 210.5,874.79 218.5,876.23 226.5,872.65 234.5,873.71 242.5,870.53 250.5,860.47 258.5,865.96 266.5,868.85 274.5,872.19 282.5,872.51 290.5,866.28 298.5,871.53 306.5,870.72 314.5,872.31 322.5,868.66 330.5,866.53 338.5,860.30 346.5,856.92 354.5,862.19 362.5,867.73 370.5,868.67 378.5,871.95 386.5,866.79 394.5,869.13 402.5,869.37 410.5,871.19 418.5,873.98 426.5,874.62 434.5,863.51 442.5,864.12 450.5,861.81 458.5,855.16 466.5,856.30 474.5,858.29 482.5,850.22 490.5,850.02 498.5,861.96 506.5,854.73 514.5,855.12 522.5,843.53 530.5,841.91 538.5,836.76 546.5,839.19 554.5,839.07 562.5,835.53 570.5,839.79 578.5,837.92 586.5,835.85 594.5,839.13 602.5,837.62 610.5,835.59 618.5,840.72 626.5,835.51 634.5,834.70 642.5,829.65 650.5,835.63 658.5,834.02 666.5,832.18 674.5,831.06 682.5,830.79 690.5,831.43 698.5,840.60 706.5,837.01 714.5,842.14 722.5,845.45 730.5,833.93 738.5,843.27 746.5,844.99 754.5,840.87 762.5,837.94 770.5,835.15 778.5,832.87 786.5,843.33 794.5,842.18 802.5,842.36 810.5,839.51 818.5,844.31 826.5,843.70 834.5,846.63 842.5,852.52 850.5,861.26 858.5,858.93 866.5,865.93 874.5,866.02 882.5,866.02 890.5,860.10 898.5,862.45 906.5,862.79 914.5,855.56 922.5,851.48 930.5,849.05 938.5,848.05 946.5,843.27 954.5,840.98 962.5,845.98 970.5,840.23 978.5,830.93 986.5,836.90 994.5,834.83 1002.5,834.22 1010.5,832.06 1018.5,833.31 1026.5,839.77 1034.5,837.52 1042.5,837.27 1050.5,838.66 1058.5,837.18 1066.5,835.16 1074.5,833.96 1082.5,836.52 1090.5,839.44 1098.5,841.58 1106.5,838.91 1114.5,850.57 1122.5,858.75 1130.5,851.31 1138.5,855.44 1146.5,856.24 1154.5,849.96 1162.5,852.53 1170.5,853.14 1178.5,861.14 1186.5,854.74 1194.5,856.51 1202.5,861.22 1210.5,855.38 1218.5,858.14 1226.5,859.89 1234.5,867.78 1242.5,872.14 1250.5,871.49 1258.5,867.32 1266.5,864.00 1274.5,857.07" fill="none" stroke="#1e90ff" stroke-width="1" stroke-linejoin="round" shape-rendering="crispEdges"/>
<polyline points="2.5,926.79 10.5,935.91 18.5,955.20 26.5,976.30 34.5,974.28 42.5,952.87 50.5,962.42 58.5,983.89 66.5,996.02 74.5,997.76 82.5,1001.85 90.5,992.57 98.5,983.39 106.5,962.52 114.5,977.01 122.5,993.21 130.5,994.56 138.5,987.04 146.5,979.38 154.5,983.70 162.5,994.41 170.5,1004.76 178.5,1011.17 186.5,1005.10 194.5,1001.45 202.5,986.56 210.5,969.92 218.5,947.82 226.5,938.76 234.5,938.08 242.5,941.84 250.5,936.60 258.5,943.32 266.5,958.52 274.5,991.08 282.5,1000.78 290.5,997.95 298.5,995.64 306.5,990.35 314.5,999.57 322.5,989.72 330.5,982.37 338.5,953.46 346.5,933.52 354.5,934.86 362.5,967.36 370.5,995.24 378.5,1008.71 386.5,999.91 394.5,998.66 402.5,986.26 410.5,983.92 418.5,984.10 426.5,992.20 434.5,975.65 442.5,955.20 450.5,937.11 458.5,934.20 466.5,933.60 474.5,935.03 482.5,933.70 490.5,930.80 498.5,957.87 506.5,974.23 514.5,986.82 522.5,953.44 530.5,933.76 538.5,915.28 546.5,920.04 554.5,923.49 562.5,924.56 570.5,927.71 578.5,928.58 586.5,932.56 594.5,934.22 602.5,934.59 610.5,935.36 618.5,940.74 626.5,932.57 634.5,931.07 642.5,918.71 650.5,931.50 658.5,935.97 666.5,937.45 674.5,931.34 682.5,930.16 690.5,935.38 698.5,957.74 706.5,967.13 714.5,985.62 722.5,985.73 730.5,961.30 738.5,955.87 746.5,951.94 754.5,961.62 762.5,945.99 770.5,926.01 778.5,917.20 786.5,935.67 794.5,953.58 802.5,975.99 810.5,969.68 818.5,970.45 826.5,965.27 834.5,974.80 842.5,986.54 850.5,1001.50 858.5,1002.57 866.5,1004.62 874.5,1005.45 882.5,1006.65 890.5,991.30 898.5,976.86 906.5,963.04 914.5,951.00 922.5,934.44 930.5,921.34 938.5,920.86 946.5,919.35 954.5,918.70 962.5,927.22 970.5,929.22 978.5,926.82 986.5,928.37 994.5,930.86 1002.5,933.86 1010.5,924.59 1018.5,922.56 1026.5,935.64 1034.5,952.11 1042.5,958.39 1050.5,948.57 1058.5,945.01 1066.5,938.05 1074.5,927.51 1082.5,927.26 1090.5,938.85 1098.5,958.14 1106.5,967.12 1114.5,984.09 1122.5,997.94 1130.5,997.60 1138.5,997.68 1146.5,990.61 1154.5,982.46 1162.5,966.93 1170.5,945.56 1178.5,971.12 1186.5,969.88 1194.5,971.74 1202.5,973.53 1210.5,974.76 1218.5,977.55 1226.5,972.38 1234.5,991.81 1242.5,1005.45 1250.5,1008.30 1258.5,1004.36 1266.5,991.59 1274.5,966.77" fill="none" stroke="#20b2aa" stroke-width="1" stroke-linejoin="round" shape-rendering="crispEdges"/>
<polyline points="2.5,926.69 10.5,929.66 18.5,940.47 26.5,955.20 34.5,968.13 42.5,967.71 50.5,963.15 58.5,966.44 66.5,980.78 74.5,992.56 82.5,998.54 90.5,997.39 98.5,992.60 106.5,979.49 114.5,974.31 122.5,977.58 130.5,988.26 138.5,991.61 146.5,987.00 154.5,983.38 162.5,985.83 170.5,994.29 178.5,1003.45 186.5,1007.01 194.5,1005.91 202.5,997.71 210.5,985.98 218.5,968.10 226.5,952.17 234.5,941.55 242.5,939.56 250.5,938.84 258.5,940.58 266.5,946.14 274.5,964.31 282.5,983.46 290.5,996.60 298.5,998.12 306.5,994.64 314.5,995.19 322.5,993.21 330.5,990.55 338.5,975.18 346.5,956.45 354.5,940.61 362.5,945.25 370.5,965.82 378.5,990.44 386.5,1001.29 394.5,1002.43 402.5,994.95 410.5,989.62 418.5,984.76 426.5,986.74 434.5,983.98 442.5,974.35 450.5,955.99 458.5,942.17 466.5,934.97 474.5,934.28 482.5,934.11 490.5,933.18 498.5,940.79 506.5,954.30 514.5,972.98 522.5,971.50 530.5,958.01 538.5,934.16 546.5,923.03 554.5,919.60 562.5,922.70 570.5,925.25 578.5,926.95 586.5,929.61 594.5,931.79 602.5,933.79 610.5,934.73 618.5,936.90 626.5,936.22 634.5,934.79 642.5,927.45 650.5,927.09 658.5,928.72 666.5,934.97 674.5,934.92 682.5,932.98 690.5,932.29 698.5,941.09 706.5,953.41 714.5,970.16 722.5,979.49 730.5,977.55 738.5,967.63 746.5,956.37 754.5,956.47 762.5,953.18 770.5,944.54 778.5,929.73 786.5,926.29 794.5,935.48 802.5,955.08 810.5,966.42 818.5,972.04 826.5,968.47 834.5,970.18 842.5,975.54 850.5,987.61 858.5,996.87 866.5,1002.90 874.5,1004.21 882.5,1005.57 890.5,1001.13 898.5,991.60 906.5,977.07 914.5,963.63 922.5,949.49 930.5,935.59 938.5,925.55 946.5,920.52 954.5,919.64 962.5,921.76 970.5,925.05 978.5,927.76 986.5,928.14 994.5,928.68 1002.5,931.03 1010.5,929.77 1018.5,927.00 1026.5,927.60 1034.5,936.77 1042.5,948.71 1050.5,953.02 1058.5,950.66 1066.5,943.88 1074.5,936.86 1082.5,930.94 1090.5,931.21 1098.5,941.42 1106.5,954.71 1114.5,969.79 1122.5,983.05 1130.5,993.21 1138.5,997.74 1146.5,995.30 1154.5,990.25 1162.5,980.00 1170.5,964.98 1178.5,961.20 1186.5,962.19 1194.5,970.91 1202.5,971.71 1210.5,973.34 1218.5,975.28 1226.5,974.90 1234.5,980.58 1242.5,989.88 1250.5,1001.85 1258.5,1006.04 1266.5,1001.42 1274.5,987.57" fill="none" stroke="#ff0000" stroke-width="1" stroke-linejoin="round" stroke-dasharray="3,3" shape-rendering="crispEdges"/>
<g shape-rendering="crispEdges"><rect x="1556" y="797" width="4" height="1" fill="#000"/><rect x="1556" y="830" width="4" height="1" fill="#000"/><rect x="1556" y="852" width="4" height="1" fill="#000"/><rect x="1556" y="874" width="4" height="1" fill="#000"/><rect x="1556" y="907" width="4" height="1" fill="#000"/><rect x="1556" y="911" width="4" height="1" fill="#000"/><rect x="1556" y="932" width="4" height="1" fill="#000"/><rect x="1556" y="996" width="4" height="1" fill="#000"/><rect x="1556" y="1017" width="4" height="1" fill="#000"/></g>
<text x="1561.50" y="805.00" font-size="10" fill="#000" textLength="26.50" lengthAdjust="spacingAndGlyphs">100.00</text>
<text x="1561.50" y="834.00" font-size="10" fill="#000" textLength="21.50" lengthAdjust="spacingAndGlyphs">70.00</text>
<text x="1561.50" y="856.00" font-size="10" fill="#000" textLength="21.50" lengthAdjust="spacingAndGlyphs">50.00</text>
<text x="1561.50" y="878.00" font-size="10" fill="#000" textLength="21.50" lengthAdjust="spacingAndGlyphs">30.00</text>
<text x="1561.50" y="906.00" font-size="10" fill="#000" textLength="16.50" lengthAdjust="spacingAndGlyphs">0.00</text>
<text x="1561.50" y="919.00" font-size="10" fill="#000" textLength="26.50" lengthAdjust="spacingAndGlyphs">100.00</text>
<text x="1561.50" y="936.00" font-size="10" fill="#000" textLength="21.50" lengthAdjust="spacingAndGlyphs">80.00</text>
<text x="1561.50" y="1000.00" font-size="10" fill="#000" textLength="21.50" lengthAdjust="spacingAndGlyphs">20.00</text>
<text x="1561.50" y="1016.00" font-size="10" fill="#000" textLength="16.50" lengthAdjust="spacingAndGlyphs">0.00</text>
<rect x="2" y="1019" width="1" height="4" fill="#000" shape-rendering="crispEdges"/>
<text x="2.20" y="1031.00" font-size="9.5" fill="#000" textLength="42.00" lengthAdjust="spacingAndGlyphs">3 Jul 2024</text>
<rect x="66" y="1019" width="1" height="4" fill="#000" shape-rendering="crispEdges"/>
<text x="66.20" y="1031.00" font-size="9.5" fill="#000" textLength="47.00" lengthAdjust="spacingAndGlyphs">15 Jul 2024</text>
<rect x="130" y="1019" width="1" height="4" fill="#000" shape-rendering="crispEdges"/>
<text x="130.20" y="1031.00" font-size="9.5" fill="#000" textLength="47.50" lengthAdjust="spacingAndGlyphs">25 Jul 2024</text>
<rect x="194" y="1019" width="1" height="4" fill="#000" shape-rendering="crispEdges"/>
<text x="194.20" y="1031.00" font-size="9.5" fill="#000" textLength="48.30" lengthAdjust="spacingAndGlyphs">6 Aug 2024</text>
<rect x="258" y="1019" width="1" height="4" fill="#000" shape-rendering="crispEdges"/>
<text x="258.20" y="1031.00" font-size="9.5" fill="#000" textLength="53.20" lengthAdjust="spacingAndGlyphs">16 Aug 2024</text>
<rect x="322" y="1019" width="1" height="4" fill="#000" shape-rendering="crispEdges"/>
<text x="322.20" y="1031.00" font-size="9.5" fill="#000" textLength="52.50" lengthAdjust="spacingAndGlyphs">28 Aug 2024</text>
<rect x="386" y="1019" width="1" height="4" fill="#000" shape-rendering="crispEdges"/>
<text x="386.20" y="1031.00" font-size="9.5" fill="#000" textLength="47.20" lengthAdjust="spacingAndGlyphs">9 Sep 2024</text>
<rect x="450" y="1019" width="1" height="4" fill="#000" shape-rendering="crispEdges"/>
<text x="450.20" y="1031.00" font-size="9.5" fill="#000" textLength="52.00" lengthAdjust="spacingAndGlyphs">19 Sep 2024</text>
<rect x="514" y="1019" width="1" height="4" fill="#000" shape-rendering="crispEdges"/>
<text x="514.20" y="1031.00" font-size="9.5" fill="#000" textLength="45.30" lengthAdjust="spacingAndGlyphs">1 Oct 2024</text>
<rect x="578" y="1019" width="1" height="4" fill="#000" shape-rendering="crispEdges"/>
<text x="578.20" y="1031.00" font-size="9.5" fill="#000" textLength="50.40" lengthAdjust="spacingAndGlyphs">11 Oct 2024</text>
<rect x="642" y="1019" width="1" height="4" fill="#000" shape-rendering="crispEdges"/>
<text x="642.20" y="1031.00" font-size="9.5" fill="#000" textLength="51.20" lengthAdjust="spacingAndGlyphs">23 Oct 2024</text>
<rect x="706" y="1019" width="1" height="4" fill="#000" shape-rendering="crispEdges"/>
<text x="706.20" y="1031.00" font-size="9.5" fill="#000" textLength="48.00" lengthAdjust="spacingAndGlyphs">1 Nov 2024</text>
<rect x="770" y="1019" width="1" height="4" fill="#000" shape-rendering="crispEdges"/>
<text x="770.20" y="1031.00" font-size="9.5" fill="#000" textLength="53.50" lengthAdjust="spacingAndGlyphs">13 Nov 2024</text>
<rect x="834" y="1019" width="1" height="4" fill="#000" shape-rendering="crispEdges"/>
<text x="834.20" y="1031.00" font-size="9.5" fill="#000" textLength="53.60" lengthAdjust="spacingAndGlyphs">25 Nov 2024</text>
<rect x="898" y="1019" width="1" height="4" fill="#000" shape-rendering="crispEdges"/>
<text x="898.20" y="1031.00" font-size="9.5" fill="#000" textLength="46.60" lengthAdjust="spacingAndGlyphs">5 Dec 2024</text>
<rect x="962" y="1019" width="1" height="4" fill="#000" shape-rendering="crispEdges"/>
<text x="962.20" y="1031.00" font-size="9.5" fill="#000" textLength="51.00" lengthAdjust="spacingAndGlyphs">17 Dec 2024</text>
<rect x="1026" y="1019" width="1" height="4" fill="#000" shape-rendering="crispEdges"/>
<text x="1026.20" y="1031.00" font-size="9.5" fill="#000" textLength="51.70" lengthAdjust="spacingAndGlyphs">30 Dec 2024</text>
<rect x="1090" y="1019" width="1" height="4" fill="#000" shape-rendering="crispEdges"/>
<text x="1090.20" y="1031.00" font-size="9.5" fill="#000" textLength="49.00" lengthAdjust="spacingAndGlyphs">10 Jan 2025</text>
<rect x="1154" y="1019" width="1" height="4" fill="#000" shape-rendering="crispEdges"/>
<text x="1154.20" y="1031.00" font-size="9.5" fill="#000" textLength="48.60" lengthAdjust="spacingAndGlyphs">22 Jan 2025</text>
<rect x="1218" y="1019" width="1" height="4" fill="#000" shape-rendering="crispEdges"/>
<text x="1218.20" y="1031.00" font-size="9.5" fill="#000" textLength="45.70" lengthAdjust="spacingAndGlyphs">3 Feb 2025</text>
<text x="6.80" y="13.00" font-size="9.4" fill="#000" textLength="185.40" lengthAdjust="spacingAndGlyphs" xml:space="preserve">USDJPY, Daily:  US Dollar vs Japanese Yen</text>
<text x="5.50" y="809.00" font-size="9.6" fill="#000" textLength="57.70" lengthAdjust="spacingAndGlyphs">RSI(14) 45.78</text>
<text x="5.80" y="923.00" font-size="9.9" fill="#000" textLength="101.70" lengthAdjust="spacingAndGlyphs">Stoch(5,3,3) 47.45 27.62</text>
<text x="602.23" y="99.70" font-size="38.4" fill="#000" textLength="355.54" lengthAdjust="spacingAndGlyphs">USDJPY - Daily Chart</text>
<text x="18.45" y="59.50" font-size="19.4" fill="#000" textLength="181.27" lengthAdjust="spacingAndGlyphs">161.94 (38-year high)</text>
<text x="338.49" y="749.90" font-size="19.4" fill="#000" textLength="190.07" lengthAdjust="spacingAndGlyphs">139.56 (14-month low)</text>
<text x="1057.87" y="159.00" font-size="19.4" fill="#000" textLength="60.29" lengthAdjust="spacingAndGlyphs">158.86</text>
<text x="1387.19" y="174.80" font-size="19.4" fill="#ff0000" textLength="58.25" lengthAdjust="spacingAndGlyphs">158.40</text>
<text x="1378.19" y="222.60" font-size="19.4" fill="#ff0000" textLength="59.31" lengthAdjust="spacingAndGlyphs">156.80</text>
<text x="1330.18" y="294.10" font-size="19.4" fill="#ff0000" textLength="174.77" lengthAdjust="spacingAndGlyphs">154.30 (23.6% Fibo)</text>
<text x="1386.19" y="328.90" font-size="19.4" fill="#000" textLength="60.22" lengthAdjust="spacingAndGlyphs">153.35</text>
<text x="1386.19" y="363.30" font-size="19.4" fill="#008000" textLength="59.99" lengthAdjust="spacingAndGlyphs">151.17</text>
<text x="1338.56" y="390.70" font-size="19.4" fill="#008000" textLength="175.38" lengthAdjust="spacingAndGlyphs">151.50 (38.2% Fibo)</text>
<text x="1306.56" y="445.50" font-size="19.4" fill="#008000" textLength="224.78" lengthAdjust="spacingAndGlyphs">149.00-149.50 (50% Fibo)</text>
<text x="1034.11" y="421.20" font-size="19.4" fill="#9400d3" textLength="79.62" lengthAdjust="spacingAndGlyphs">200-EMA</text>
<text x="729.07" y="464.40" font-size="19.4" fill="#ff8c00" textLength="69.45" lengthAdjust="spacingAndGlyphs">50-EMA</text>
<text x="577.51" y="558.70" font-size="19.4" fill="#008080" textLength="68.72" lengthAdjust="spacingAndGlyphs">20-EMA</text>
<text x="1201.18" y="888.20" font-size="19.4" fill="#000" textLength="332.00" lengthAdjust="spacingAndGlyphs">RSI turns up, still below 50 neutral mark</text>
<text x="1170.25" y="957.60" font-size="19.4" fill="#008000" textLength="339.91" lengthAdjust="spacingAndGlyphs">Stochastics rise above 20 oversold level</text>
</svg>
</body></html>
